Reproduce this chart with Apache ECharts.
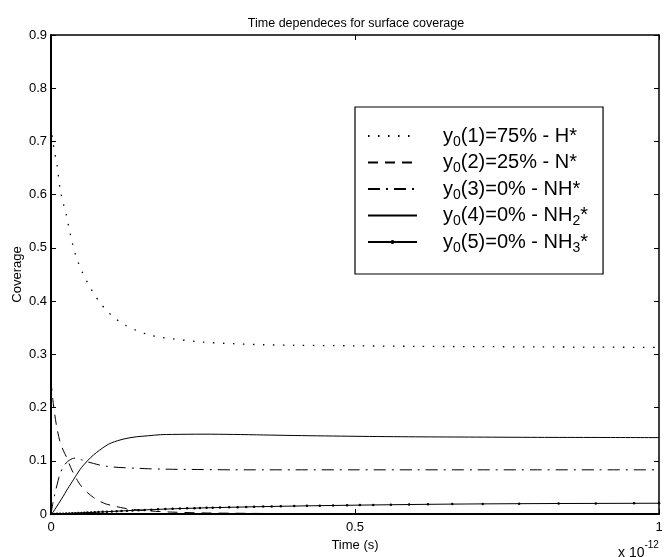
<!DOCTYPE html>
<html>
<head>
<meta charset="utf-8">
<title>Time dependeces for surface coverage</title>
<style>
  html, body { margin: 0; padding: 0; background: #fff; }
  #chart { width: 671px; height: 557px; }
</style>
</head>
<body>
<div id="chart"></div>
<script src="https://cdn.jsdelivr.net/npm/echarts@6/dist/echarts.min.js"></script>
<script>
// time in units of 1e-12 s
var time = [0, 0.003, 0.006, 0.01, 0.015, 0.02, 0.025, 0.03, 0.035, 0.04, 0.045, 0.05, 0.06, 0.07, 0.08, 0.09,
            0.1, 0.12, 0.14, 0.16, 0.18, 0.2, 0.25, 0.3, 0.35, 0.4, 0.5, 0.6, 0.7, 0.8, 0.9, 1.0];
var covH   = [0.73, 0.70, 0.68, 0.655, 0.61, 0.585, 0.563, 0.535, 0.51, 0.488, 0.472, 0.458, 0.435, 0.415, 0.398, 0.384,
              0.373, 0.356, 0.345, 0.337, 0.332, 0.329, 0.323, 0.320, 0.318, 0.317, 0.316, 0.315, 0.3145, 0.314, 0.3135, 0.313];
var covN   = [0.25, 0.215, 0.188, 0.16, 0.135, 0.12, 0.108, 0.094, 0.081, 0.07, 0.06, 0.052, 0.04, 0.031, 0.024, 0.019,
              0.016, 0.011, 0.008, 0.006, 0.0045, 0.0035, 0.002, 0.0015, 0.001, 0.0008, 0.0005, 0.0004, 0.0004, 0.0003, 0.0003, 0.0003];
var covNH  = [0, 0.02, 0.036, 0.055, 0.076, 0.088, 0.096, 0.101, 0.104, 0.105, 0.104, 0.102, 0.098, 0.095, 0.092, 0.09,
              0.0885, 0.087, 0.086, 0.085, 0.0845, 0.084, 0.0835, 0.083, 0.083, 0.083, 0.083, 0.083, 0.083, 0.083, 0.083, 0.083];
var covNH2 = [0, 0.003, 0.008, 0.015, 0.024, 0.033, 0.043, 0.052, 0.061, 0.07, 0.079, 0.087, 0.1, 0.111, 0.12, 0.128,
              0.134, 0.141, 0.145, 0.147, 0.149, 0.1495, 0.15, 0.1495, 0.1485, 0.1475, 0.146, 0.145, 0.1445, 0.144, 0.1438, 0.1435];

// NH3 has its own (solver step) time points, drawn with dots
var timeNH3 = [0, 0.005, 0.01, 0.015, 0.02, 0.025, 0.03, 0.035, 0.04, 0.045, 0.05, 0.055, 0.06, 0.066, 0.072, 0.078,
               0.085, 0.092, 0.1, 0.108, 0.116, 0.125, 0.134, 0.144, 0.154, 0.165, 0.176, 0.188, 0.2, 0.212, 0.224, 0.236,
               0.245, 0.256, 0.266, 0.278, 0.293, 0.307, 0.321, 0.334, 0.349, 0.363, 0.378, 0.4, 0.421, 0.442, 0.464,
               0.487, 0.508, 0.53, 0.559, 0.589, 0.62, 0.66, 0.71, 0.77, 0.835, 0.896, 0.959, 1.0];
var covNH3 = [0, 0.0001, 0.0003, 0.0005, 0.0007, 0.0009, 0.0011, 0.0013, 0.0016, 0.0018, 0.002, 0.0023, 0.0026, 0.0029, 0.0033, 0.0036,
              0.004, 0.0044, 0.0048, 0.0053, 0.0057, 0.0062, 0.0067, 0.0072, 0.0077, 0.0082, 0.0087, 0.0092, 0.0097, 0.0102, 0.0106, 0.011,
              0.0113, 0.0116, 0.0119, 0.0122, 0.0126, 0.0129, 0.0133, 0.0136, 0.0139, 0.0142, 0.0145, 0.0149, 0.0153, 0.0157, 0.016,
              0.0164, 0.0167, 0.017, 0.0174, 0.0178, 0.0182, 0.0186, 0.019, 0.0194, 0.0197, 0.0199, 0.0201, 0.0202];

var names = ['y0(1)=75% - H*', 'y0(2)=25% - N*', 'y0(3)=0% - NH*', 'y0(4)=0% - NH2*', 'y0(5)=0% - NH3*'];
var legendRich = {
  'y0(1)=75% - H*':  '{m|y}{s|0}{m|(1)=75% - H*}',
  'y0(2)=25% - N*':  '{m|y}{s|0}{m|(2)=25% - N*}',
  'y0(3)=0% - NH*':  '{m|y}{s|0}{m|(3)=0% - NH*}',
  'y0(4)=0% - NH2*': '{m|y}{s|0}{m|(4)=0% - NH}{s|2}{m|*}',
  'y0(5)=0% - NH3*': '{m|y}{s|0}{m|(5)=0% - NH}{s|3}{m|*}'
};

function pairs(xs, ys) {
  return xs.map(function (x, i) { return [x, ys[i]]; });
}

var font = 'Liberation Sans, Arial, sans-serif';
var chart = echarts.init(document.getElementById('chart'), null, { renderer: 'canvas' });

var tickStyle = { show: true, inside: true, length: 5, lineStyle: { color: '#000', width: 1 } };

// legend: only the NH3 entry shows its dot
var legendData = names.map(function (n, i) {
  return { name: n, itemStyle: { opacity: i === 4 ? 1 : 0 } };
});

var option = {
  backgroundColor: '#fff',
  animation: false,
  textStyle: { fontFamily: font, color: '#000' },
  title: {
    text: 'Time dependeces for surface coverage',
    left: 351, top: 12, textAlign: 'center',
    textStyle: { fontSize: 12.5, fontWeight: 'normal', color: '#000', fontFamily: font }
  },
  grid: { left: 51, right: 12, top: 35, bottom: 43, containLabel: false, outerBoundsMode: 'none' },
  legend: {
    orient: 'vertical',
    left: 355, top: 107,
    padding: [16, 15, 19, 12],
    itemGap: 0.5,
    itemWidth: 49,
    itemHeight: 5,
    borderColor: '#000',
    borderWidth: 1.2,
    backgroundColor: '#fff',
    data: legendData,
    formatter: function (n) { return legendRich[n]; },
    textStyle: {
      fontFamily: font,
      lineHeight: 26,
      padding: [0, 0, 0, 21],
      rich: {
        m: { fontSize: 20, lineHeight: 26, verticalAlign: 'middle', color: '#000', fontFamily: font },
        s: { fontSize: 14, lineHeight: 26, verticalAlign: 'bottom', color: '#000', fontFamily: font }
      }
    }
  },
  xAxis: [{
    type: 'value', min: 0, max: 1, interval: 0.5,
    name: 'Time (s)', nameLocation: 'middle', nameGap: 25, nameMoveOverlap: false,
    nameTextStyle: { fontSize: 13, color: '#000', fontFamily: font },
    axisLine: { show: true, onZero: false, lineStyle: { color: '#000', width: 2 } },
    axisTick: tickStyle,
    axisLabel: { fontSize: 13, color: '#000', margin: 7, fontFamily: font },
    splitLine: { show: false }
  }, {
    type: 'value', min: 0, max: 1, interval: 0.5, position: 'top',
    axisLine: { show: true, onZero: false, lineStyle: { color: '#000', width: 1.5 } },
    axisTick: tickStyle,
    axisLabel: { show: false },
    splitLine: { show: false }
  }],
  yAxis: [{
    type: 'value', min: 0, max: 0.9, interval: 0.1,
    name: 'Coverage', nameLocation: 'middle', nameGap: 27, nameMoveOverlap: false,
    nameTextStyle: { fontSize: 13, color: '#000', fontFamily: font },
    axisLine: { show: true, onZero: false, lineStyle: { color: '#000', width: 2 } },
    axisTick: tickStyle,
    axisLabel: { fontSize: 13, color: '#000', margin: 4, fontFamily: font },
    splitLine: { show: false }
  }, {
    type: 'value', min: 0, max: 0.9, interval: 0.1, position: 'right',
    axisLine: { show: true, onZero: false, lineStyle: { color: '#000', width: 1.5 } },
    axisTick: tickStyle,
    axisLabel: { show: false },
    splitLine: { show: false }
  }],
  graphic: [{
    type: 'text', left: 618, top: 540,
    style: {
      text: '{a|x 10}{b|-12}',
      rich: {
        a: { fontSize: 14, fill: '#000', fontFamily: font, verticalAlign: 'bottom', lineHeight: 20 },
        b: { fontSize: 10, fill: '#000', fontFamily: font, verticalAlign: 'top', lineHeight: 20 }
      }
    }
  }],
  series: [{
    name: names[0], type: 'line', data: pairs(time, covH), symbol: 'none', smooth: 0.3,
    lineStyle: { color: '#000', width: 1.3, type: [1.5, 8.5] }, itemStyle: { color: '#000' }
  }, {
    name: names[1], type: 'line', data: pairs(time, covN), symbol: 'none', smooth: 0.3,
    lineStyle: { color: '#000', width: 1, type: [10, 7] }, itemStyle: { color: '#000' }
  }, {
    name: names[2], type: 'line', data: pairs(time, covNH), symbol: 'none', smooth: 0.3,
    lineStyle: { color: '#000', width: 1, type: [12, 6, 2, 6] }, itemStyle: { color: '#000' }
  }, {
    name: names[3], type: 'line', data: pairs(time, covNH2), symbol: 'none', smooth: 0.3,
    lineStyle: { color: '#000', width: 1 }, itemStyle: { color: '#000' }
  }, {
    name: names[4], type: 'line', data: pairs(timeNH3, covNH3), symbol: 'circle', symbolSize: 2.5,
    showAllSymbol: true,
    lineStyle: { color: '#000', width: 1 }, itemStyle: { color: '#000' }
  }]
};
chart.setOption(option);
</script>
</body>
</html>
